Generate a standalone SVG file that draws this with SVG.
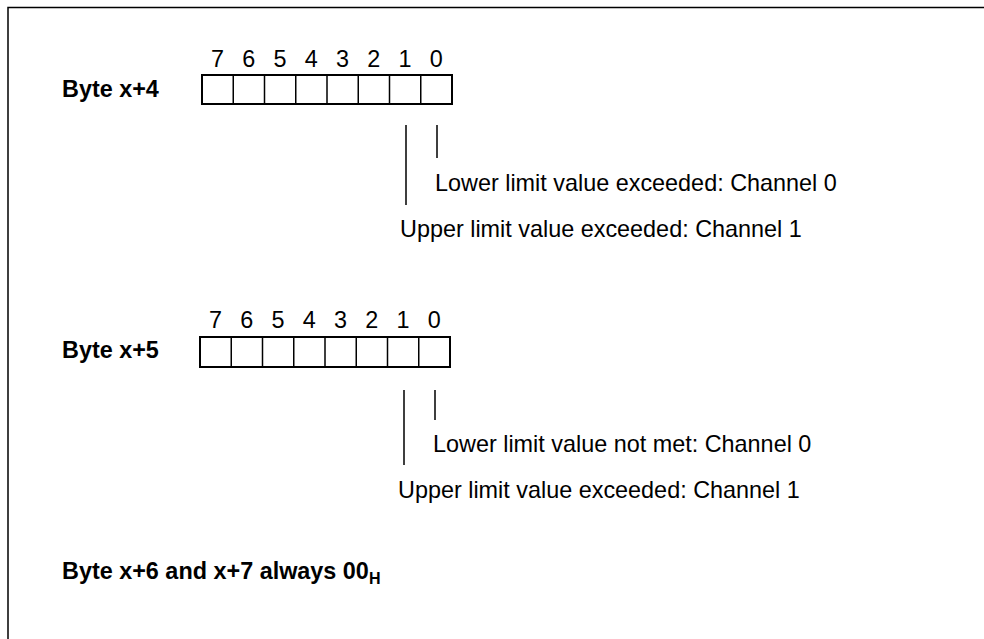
<svg xmlns="http://www.w3.org/2000/svg" width="984" height="639" viewBox="0 0 984 639">
<style>
.t{font-family:"Liberation Sans",Arial,sans-serif;font-size:23.4px;fill:#000}
.b{font-weight:bold}
.d{text-anchor:middle}
.cell{fill:#fff;stroke:#000;stroke-width:2}
.ln{stroke:#000;stroke-width:1.5;fill:none}
</style>
<rect width="984" height="639" fill="#fff"/>
<g id="frame"><path class="ln" d="M8,639 V7.5 H984" stroke-width="2"/></g>
<g id="byte4">
<text class="t b" x="62" y="97">Byte x+4</text>
<g class="t d">
<text x="217.6" y="67">7</text><text x="248.8" y="67">6</text><text x="280" y="67">5</text><text x="311.3" y="67">4</text><text x="342.5" y="67">3</text><text x="373.8" y="67">2</text><text x="405" y="67">1</text><text x="436.3" y="67">0</text>
</g>
<rect class="cell" x="202" y="75" width="250" height="29"/>
<path class="ln" d="M233.25,75V104M264.5,75V104M295.75,75V104M327,75V104M358.25,75V104M389.5,75V104M420.75,75V104" stroke-width="2"/>
</g>
<g id="byte5">
<text class="t b" x="62" y="358">Byte x+5</text>
<g class="t d">
<text x="215.6" y="328">7</text><text x="246.8" y="328">6</text><text x="278" y="328">5</text><text x="309.3" y="328">4</text><text x="340.5" y="328">3</text><text x="371.8" y="328">2</text><text x="403" y="328">1</text><text x="434.3" y="328">0</text>
</g>
<rect class="cell" x="200" y="337" width="250" height="30"/>
<path class="ln" d="M231.25,337V367M262.5,337V367M293.75,337V367M325,337V367M356.25,337V367M387.5,337V367M418.75,337V367" stroke-width="2"/>
</g>
<g id="connectors">
<path class="ln" d="M406,125V205M437,125V158M404,390V465M435,390V420"/>
</g>
<g id="labels4">
<text class="t" x="435" y="191">Lower limit value exceeded: Channel 0</text>
<text class="t" x="400" y="237">Upper limit value exceeded: Channel 1</text>
</g>
<g id="labels5">
<text class="t" x="433" y="452">Lower limit value not met: Channel 0</text>
<text class="t" x="398" y="498">Upper limit value exceeded: Channel 1</text>
</g>
<g id="footer">
<text class="t b" x="62" y="579">Byte x+6 and x+7 always 00<tspan font-size="16" dy="5">H</tspan></text>
</g>
</svg>
